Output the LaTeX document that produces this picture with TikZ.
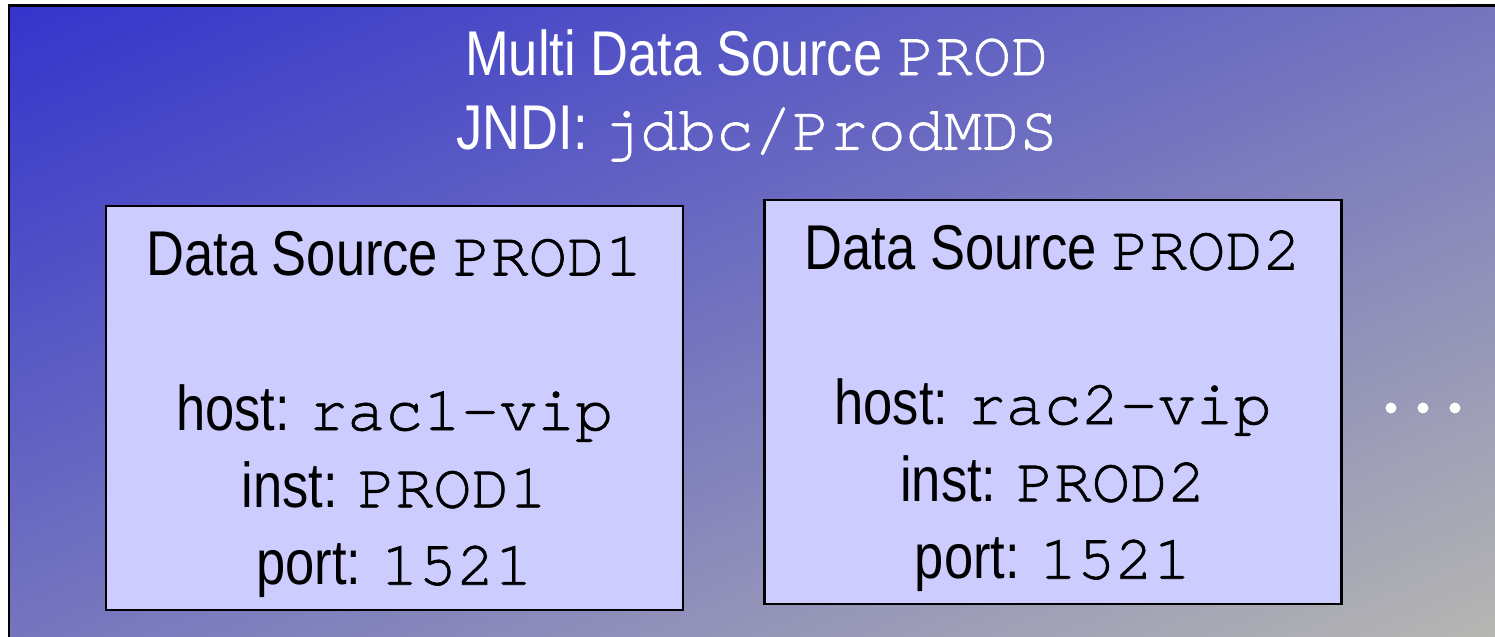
\documentclass[tikz,border=0pt]{standalone}
\usepackage{fontspec}
\setmainfont[FakeStretch=0.83]{Liberation Sans}
\setmonofont[FakeBold=1]{TeX Gyre Cursor}
\usepackage{tikz}
\definecolor{mdsblue}{HTML}{3434CC}
\definecolor{mdsmid}{HTML}{8585BA}
\definecolor{mdsgray}{HTML}{B6B6B2}
\definecolor{dsfill}{HTML}{CCCCFF}

\begin{document}
\begin{tikzpicture}[dsbox/.style={draw=black,line width=1.5pt,fill=dsfill,minimum width=11.54cm,minimum height=8.08cm,inner sep=0pt,align=center,text depth=0pt,font=\fontsize{36}{44}\selectfont}]
\useasboundingbox (0,0) rectangle (29.9,12.74);
% gradient background, blue at top left, grey at bottom right
\begin{scope}
\clip (0.18,-0.5) rectangle (30.5,12.63);
\shade[transform canvas={rotate around={23:(15.04,6.32)}},top color=mdsblue,middle color=mdsmid,bottom color=mdsgray] (-9.96,-5.31) rectangle (40.04,17.95);
\end{scope}
\draw[line width=1.6pt] (0.18,-0.5) rectangle (30.5,12.63);
\node[white,align=center,text depth=0pt,font=\fontsize{36}{42.5}\selectfont] (mds) at (15.14,10.95) {Multi Data Source \texttt{PROD}\\JNDI: \texttt{jdbc/ProdMDS}};
\node[dsbox] (ds1) at (7.89,4.58) {Data Source \texttt{PROD1}\\[44pt]host: \texttt{rac1-vip}\\inst: \texttt{PROD1}\\port: \texttt{1521}};
\node[dsbox] (ds2) at (21.06,4.70) {Data Source \texttt{PROD2}\\[44pt]host: \texttt{rac2-vip}\\inst: \texttt{PROD2}\\port: \texttt{1521}};
\foreach \x in {27.82,28.46,29.10}
  \fill[white] (\x,4.58) circle (0.11);
\end{tikzpicture}
\end{document}
